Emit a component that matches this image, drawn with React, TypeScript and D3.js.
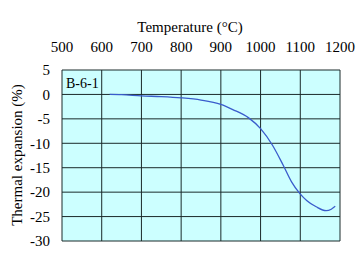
import React from 'react';
import * as d3 from 'd3';

const temps = [620, 650, 700, 750, 800, 850, 900, 930, 970, 1000, 1030, 1057, 1078, 1098, 1116, 1140, 1165, 1178, 1188];
const expansion = [0, -0.05, -0.3, -0.45, -0.7, -1.15, -2.05, -3.1, -4.8, -7.0, -10.4, -14.5, -17.9, -20.2, -21.7, -23.0, -23.8, -23.5, -22.9];
const xTicks = [500, 600, 700, 800, 900, 1000, 1100, 1200];
const yTicks = [5, 0, -5, -10, -15, -20, -25, -30];
const sampleLabel = 'B-6-1';
const xTitle = 'Temperature (°C)';
const yTitle = 'Thermal expansion (%)';

export default function App() {
  const W = 360, H = 260;
  const left = 62, right = 340, top = 70, bottom = 241;
  const x = d3.scaleLinear().domain([500, 1200]).range([left, right]);
  const y = d3.scaleLinear().domain([5, -30]).range([top, bottom]);
  const line = d3.line<number>()
    .x((_, i) => x(temps[i]))
    .y((d) => y(d))
    .curve(d3.curveMonotoneX);
  const font = "'Liberation Serif', 'Times New Roman', Times, serif";
  const ts = { fontFamily: font };
  return (
    <svg width={W} height={H} style={{ position: 'absolute', left: 0, top: 0, background: '#fff' }}>
      <rect x={left} y={top} width={right - left} height={bottom - top} fill="#ccffff" />
      {xTicks.map((t) => (
        <line key={'vx' + t} x1={x(t)} x2={x(t)} y1={top} y2={bottom} stroke="#1a2a2a" strokeWidth={1} />
      ))}
      {yTicks.map((t) => (
        <line key={'hy' + t} x1={left} x2={right} y1={y(t)} y2={y(t)} stroke="#1a2a2a" strokeWidth={1} />
      ))}
      <path d={line(expansion) || ''} fill="none" stroke="#3a5ccc" strokeWidth={1.3} />
      <text style={ts} x={left + 4} y={top + 18} fontSize={14} fill="#000">{sampleLabel}</text>
      {xTicks.map((t) => (
        <text style={ts} key={'tx' + t} x={x(t)} y={52} fontSize={15} textAnchor="middle" fill="#000">{t}</text>
      ))}
      {yTicks.map((t) => (
        <text style={ts} key={'ty' + t} x={50} y={y(t)} dy="0.35em" fontSize={15} textAnchor="end" fill="#000">{t}</text>
      ))}
      <text style={ts} x={190} y={32} fontSize={15} textAnchor="middle" fill="#000">{xTitle}</text>
      <text style={ts} transform={`translate(22,155) rotate(-90)`} fontSize={15} textAnchor="middle" fill="#000">{yTitle}</text>
    </svg>
  );
}
